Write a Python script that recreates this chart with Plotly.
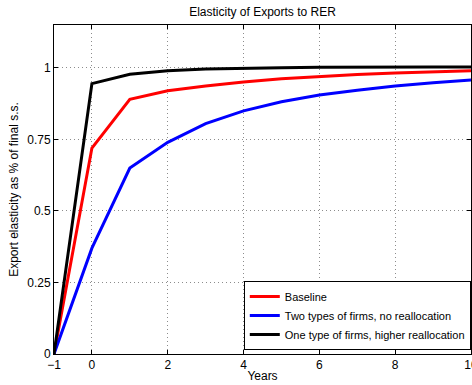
import plotly.graph_objects as go

years = [-1, 0, 1, 2, 3, 4, 5, 6, 7, 8, 9, 10]
baseline = [0, 0.72, 0.89, 0.92, 0.937, 0.951, 0.962, 0.970, 0.977, 0.982, 0.986, 0.990]
two_types = [0, 0.37, 0.65, 0.74, 0.805, 0.850, 0.882, 0.905, 0.922, 0.937, 0.948, 0.958]
one_type = [0, 0.945, 0.978, 0.990, 0.996, 0.999, 1.001, 1.002, 1.003, 1.003, 1.003, 1.003]

names = ["Baseline", "Two types of firms, no reallocation", "One type of firms, higher reallocation"]
colors = ["#ff0000", "#0000ff", "#000000"]
series = [baseline, two_types, one_type]

fig = go.Figure()
for n, c, s in zip(names, colors, series):
    fig.add_trace(go.Scatter(x=years, y=s, mode="lines", name=n,
                             line=dict(color=c, width=3)))

font = dict(family="Liberation Sans, Arial, sans-serif", size=12, color="black")
axis_common = dict(showline=True, linecolor="black", linewidth=1, mirror="ticks",
                   ticks="inside", ticklen=4, tickcolor="black",
                   showgrid=True, gridcolor="#8c8c8c", griddash="1px,3px", gridwidth=1,
                   zeroline=False, automargin=False, tickfont=font,
                   ticklabeloverflow="allow")

W, H = 472, 385
fig.update_layout(
    width=W, height=H,
    margin=dict(l=54, r=1, t=25, b=31),
    paper_bgcolor="white", plot_bgcolor="white",
    font=font,
    title=dict(text="Elasticity of Exports to RER", x=(54 + (W - 1 - 54) / 2) / W, xanchor="center",
               y=1 - 12 / H, yanchor="middle", font=dict(size=12)),
    xaxis=dict(range=[-1, 10], tickvals=[-1, 0, 2, 4, 6, 8, 10],
               ticktext=["\u22121", "0", "2", "4", "6", "8", "10"],
               title=dict(text="Years", standoff=0, font=dict(size=12)), **axis_common),
    yaxis=dict(range=[0, 1.15], tickvals=[0, 0.25, 0.5, 0.75, 1],
               ticktext=["0", "0.25", "0.5", "0.75", "1"],
               title=dict(text="Export elasticity as % of final s.s.", standoff=6, font=dict(size=12)),
               **axis_common),
    legend=dict(x=0.9995, xanchor="right", y=0.012, yanchor="bottom",
                bordercolor="black", borderwidth=1, bgcolor="white",
                font=dict(size=11), tracegroupgap=0, itemwidth=30),
    showlegend=True,
)

fig.write_html("out.html", config={"displayModeBar": False},
               post_script="document.body.style.margin='0';document.body.style.overflow='hidden';")
